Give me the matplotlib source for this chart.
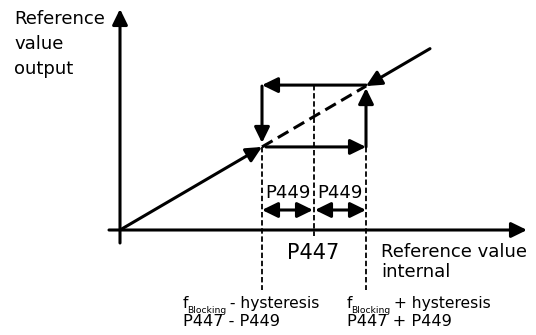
import matplotlib
matplotlib.use("Agg")

import matplotlib.pyplot as plt
from matplotlib.patches import FancyArrowPatch
from matplotlib.transforms import offset_copy

plt.rcParams["font.family"] = "DejaVu Sans"

# Diagram values (1 unit = 1 pixel, origin at axis crossing)
p447 = 194          # blocking frequency
p449 = 52           # hysteresis
slope = 0.585       # reference output / reference internal
x_end = 310         # end of characteristic line
x_axis = [-11, 407]
y_axis = [-13, 221]
arrow_row = 20      # height of the P449 double arrows
low_end = -60       # bottom of the dotted guide lines

y_label = ["Reference", "value", "output"]
x_label = ["Reference value", "internal"]
low_text = ["- hysteresis", "P447 - P449"]
high_text = ["+ hysteresis", "P447 + P449"]

x_lo = p447 - p449
x_hi = p447 + p449
y_lo = slope * x_lo
y_hi = slope * x_hi

fig = plt.figure(figsize=(5.36, 3.35), dpi=100)
ax = fig.add_axes([0, 0, 1, 1])
ax.set_xlim(-120, 416)
ax.set_ylim(-105, 230)
ax.axis("off")

head = "-|>,head_length=0.47,head_width=0.23"


def arrow(p0, p1, style=head, lw=2.2):
    ax.add_patch(FancyArrowPatch(p0, p1, arrowstyle=style, mutation_scale=20,
                                 color="black", lw=lw, shrinkA=0, shrinkB=0))


# axes
arrow((x_axis[0], 0), (x_axis[1], 0))
arrow((0, y_axis[0]), (0, y_axis[1]))

# characteristic
arrow((0, 0), (x_lo, y_lo))
ax.plot([x_lo, x_hi], [y_lo, y_hi], color="black", lw=2.2, ls=(0, (4, 2)))
arrow((x_end, slope * x_end), (x_hi, y_hi))

# hysteresis loop
arrow((x_hi, y_lo), (x_hi, y_hi - 2))
arrow((x_hi, y_hi + 1), (x_lo, y_hi + 1))
arrow((x_lo, y_hi), (x_lo, y_lo + 4))
arrow((x_lo + 4, y_lo), (x_hi, y_lo))

# dotted guides
dots = dict(color="black", lw=1.3, ls=(0, (3, 1.5)))
ax.plot([x_lo, x_lo], [y_lo, low_end], **dots)
ax.plot([p447, p447], [y_hi + 1, -6], **dots)
ax.plot([x_hi, x_hi], [y_lo, low_end], **dots)

# P449 spans
both = "<|-|>,head_length=0.47,head_width=0.23"
arrow((x_lo, arrow_row), (p447 - 1, arrow_row), style=both)
arrow((p447 + 1, arrow_row), (x_hi, arrow_row), style=both)
ax.text((x_lo + p447) / 2, 32, "P449", ha="center", va="baseline", fontsize=13)
ax.text((p447 + x_hi) / 2, 32, "P449", ha="center", va="baseline", fontsize=13)

ax.text(p447 - 1, -29, "P447", ha="center", va="baseline", fontsize=15)

# axis labels
for i, s in enumerate(x_label):
    ax.text(261, -27 - 20 * i, s, ha="left", va="baseline", fontsize=13)
for i, s in enumerate(y_label):
    ax.text(-106, 206 - 25 * i, s, ha="left", va="baseline", fontsize=13)

# bottom labels: f + small "Blocking" subscript + rest
fig.canvas.draw()
renderer = fig.canvas.get_renderer()
for x0, lines in [(63, low_text), (227, high_text)]:
    t = ax.text(x0, -78, "f", ha="left", va="baseline", fontsize=11.2)
    w = t.get_window_extent(renderer).width
    sub = ax.text(x0, -78, "Blocking", ha="left", va="baseline", fontsize=6.6,
                  transform=offset_copy(ax.transData, fig=fig, x=(w - 1) * 0.72, y=-3.6, units="points"))
    w2 = sub.get_window_extent(renderer).width
    ax.text(x0, -78, " " + lines[0], ha="left", va="baseline", fontsize=11.2,
            transform=offset_copy(ax.transData, fig=fig, x=(w + w2 - 3) * 0.72, y=0, units="points"))
    ax.text(x0, -96, lines[1], ha="left", va="baseline", fontsize=11.6)

fig.savefig("out.png", dpi=100)
